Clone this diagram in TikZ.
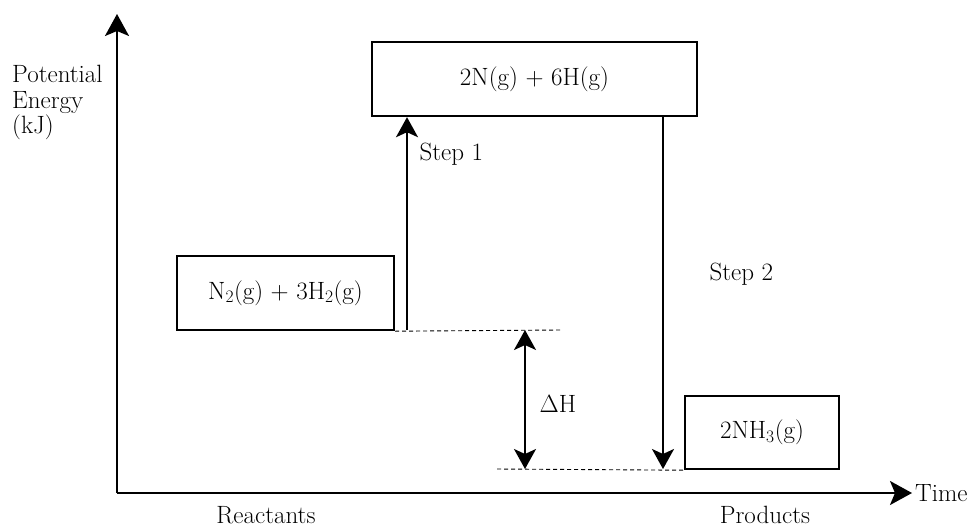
\documentclass[tikz,border=0pt]{standalone}
\usepackage{fontspec}
\usepackage{tikz}
\usepackage{amsmath,amssymb}
\usepackage{xcolor}
\usetikzlibrary{arrows.meta, positioning, calc}

\begin{document}
\begin{tikzpicture}[x=1pt, y=-1pt,
    every node/.style={font=\fontsize{25}{25.5}\selectfont},
    level/.style={draw, line width=2.4pt, inner sep=0pt},
    axis/.style={line width=2pt, -{Stealth[length=22pt, width=24pt, inset=5pt]}},
    steparrow/.style={line width=2pt, -{Stealth[length=20pt, width=22pt, inset=5pt]}},
    guide/.style={line width=0.9pt, dash pattern=on 4pt off 3pt}]
\useasboundingbox (0,0) rectangle (976,527);

% axes
\coordinate (origin) at (117,493);
\coordinate (ytop) at (117,14);
\coordinate (xend) at (912,493);
\draw[axis] (origin) -- (ytop);
\draw[axis] (origin) -- (xend);
\node[anchor=west, inner sep=3pt] (time) at (xend) {Time};
\node[anchor=north west, align=left, inner sep=0pt] (ylabel) at (12,65) {Potential\\Energy\\(kJ)};
\node[anchor=base] (reactants) at (266,523) {Reactants};
\node[anchor=base] (products) at (765,523) {Products};

% energy levels
\node[level, minimum width=325pt, minimum height=74pt] (atoms) at (534.5,79) {2N(g) + 6H(g)};
\node[level, minimum width=217pt, minimum height=74pt] (reac) at (285.5,293) {N\textsubscript{2}(g) + 3H\textsubscript{2}(g)};
\node[level, minimum width=154pt, minimum height=73pt] (prod) at (762,432.5) {2NH\textsubscript{3}(g)};

% reference lines
\coordinate (hiend) at (560,330);
\coordinate (lostart) at (497,469);
\draw[guide] (reac.south east) -- (hiend);
\draw[guide] (lostart) -- (prod.south west);

% steps
\coordinate (s1) at (407,330);
\coordinate (s2) at (663,469);
\draw[steparrow] (s1) -- (s1 |- atoms.south);
\draw[steparrow] (s2 |- atoms.south) -- (s2);
\node[anchor=base west] (step1) at (416,160) {Step 1};
\node[anchor=base west] (step2) at (706,280) {Step 2};

% enthalpy change
\coordinate (dhtop) at (525,330);
\coordinate (dhbot) at (525,469);
\draw[line width=2pt, {Stealth[length=20pt, width=22pt, inset=5pt]}-{Stealth[length=20pt, width=22pt, inset=5pt]}] (dhtop) -- (dhbot);
\node[anchor=base west] (dh) at (536,412) {$\Delta$H};
\end{tikzpicture}
\end{document}
